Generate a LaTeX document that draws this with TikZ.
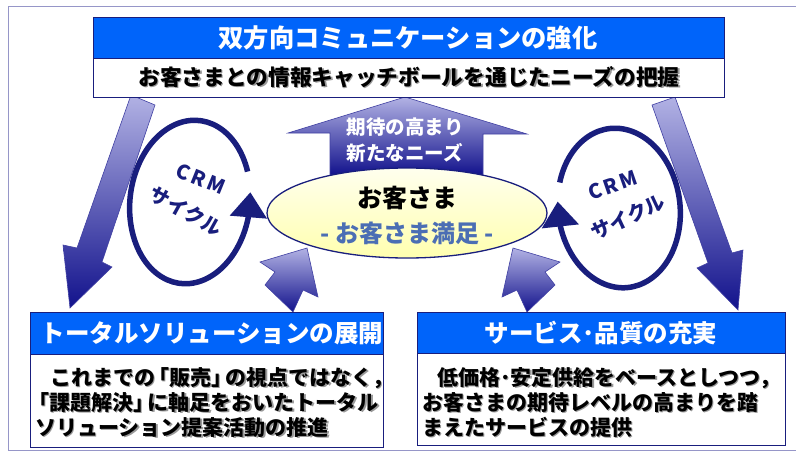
\documentclass[tikz,border=0pt]{standalone}
\usepackage{fontspec}
\setmainfont{Noto Sans CJK JP}
\usetikzlibrary{arrows.meta,bending,shapes.geometric}
\definecolor{hdrblue}{RGB}{0,100,250}
\definecolor{navy}{RGB}{25,30,125}
\definecolor{lav}{RGB}{178,178,228}
\definecolor{deep}{RGB}{18,18,140}
\definecolor{steel}{RGB}{75,110,180}
\definecolor{framec}{RGB}{150,150,200}
\definecolor{creamtop}{RGB}{255,255,238}
\definecolor{creambot}{RGB}{255,255,175}
\newcommand{\shtxt}[1]{\leavevmode\rlap{\kern1.3pt\raisebox{-1.3pt}{\textcolor{black!40}{#1}}}#1}
\newcommand{\lbr}{\makebox[0.68em][r]{「}}
\newcommand{\rbr}{\makebox[0.68em][l]{」}}
\begin{document}
\begin{tikzpicture}[x=1pt,y=-1pt,
  hdr/.style={fill=hdrblue,draw=navy,line width=1pt,anchor=north west,inner sep=0pt,outer sep=0pt},
  bodybox/.style={fill=white,draw=navy,line width=1pt,anchor=north west,inner sep=0pt,outer sep=0pt},
  hdrtext/.style={text=white,font=\bfseries\fontsize{24.5}{28}\selectfont,inner sep=0pt},
  bodytext/.style={font=\bfseries\fontsize{21}{25}\selectfont,inner sep=0pt,anchor=base west},
  bigarrow/.style={top color=lav,bottom color=deep,draw=deep!80,line width=0.6pt},
  cyclearc/.style={draw=navy,line width=5.5pt,-{Triangle[length=25pt,width=36pt]}},
  crm/.style={text=navy,font=\bfseries\fontsize{20}{22}\selectfont,inner sep=0pt},
  arrowtext/.style={text=white,font=\bfseries\fontsize{19.5}{22}\selectfont,inner sep=0pt}]

\useasboundingbox (0,0) rectangle (796,455);
\fill[white] (0,0) rectangle (796,455);
\draw[framec,line width=1pt] (8,6) rectangle (812,450);

% big side arrows
\path[bigarrow] (131,95) -- (155,105) -- (102,262) -- (112,267) -- (70,308) -- (63,245) -- (77,248) -- cycle;
\path[bigarrow] (675,97) -- (652,105) -- (708,263) -- (697,268) -- (738,310) -- (743,250) -- (732,253) -- cycle;

% small arrows into the customer
\path[bigarrow] (260,262) -- (307,248) -- (318,297) -- (303,290) -- (293,312) -- (265,285) -- (275,272) -- cycle;
\path[bigarrow] (560,262) -- (513,248) -- (502,297) -- (517,290) -- (527,312) -- (555,285) -- (545,272) -- cycle;

% up arrow
\path[bigarrow] (288,133) -- (405,97) -- (527,134) -- (483,134) -- (483,175) -- (330,175) -- (330,133) -- cycle;
\node[arrowtext] (exp1) at (405,127) {期待の高まり};
\node[arrowtext] (exp2) at (405,153) {新たなニーズ};

% top box
\node[hdr,minimum width=631pt,minimum height=41pt] (tophdr) at (93,17) {};
\node[bodybox,minimum width=631pt,minimum height=39pt] (topbody) at (93,58) {};
\node[hdrtext,font=\bfseries\fontsize{25.3}{28}\selectfont] (toptitle) at (408,38) {双方向コミュニケーションの強化};
\node[inner sep=0pt,font=\bfseries\fontsize{21.7}{25}\selectfont] (topsub) at (409,78) {\shtxt{お客さまとの情報キャッチボールを通じたニーズの把握}};

% bottom left box
\node[hdr,minimum width=353pt,minimum height=42pt] (lhdr) at (30,312) {};
\node[bodybox,minimum width=353pt,minimum height=93pt] (lbody) at (30,354) {};
\node[hdrtext] (ltitle) at (212,333) {トータルソリューションの展開};
\node[bodytext] (l1) at (35,385) {\shtxt{\hspace{15pt}これまでの\lbr 販売\rbr の視点ではなく，}};
\node[bodytext] (l2) at (35,410) {\shtxt{\lbr 課題解決\rbr に軸足をおいたトータル}};
\node[bodytext] (l3) at (35,435) {\shtxt{ソリューション提案活動の推進}};

% bottom right box
\node[hdr,minimum width=368pt,minimum height=41pt] (rhdr) at (417,312) {};
\node[bodybox,minimum width=368pt,minimum height=92pt] (rbody) at (417,353) {};
\node[hdrtext] (rtitle) at (601,333) {サービス･品質の充実};
\node[bodytext] (r1) at (422,385) {\shtxt{\hspace{15pt}低価格･安定供給をベースとしつつ，}};
\node[bodytext] (r2) at (422,410) {\shtxt{お客さまの期待レベルの高まりを踏}};
\node[bodytext] (r3) at (422,435) {\shtxt{まえたサービスの提供}};

% customer ellipse
\node[ellipse,draw=navy,line width=1.3pt,minimum width=280pt,minimum height=90pt,top color=creamtop,bottom color=creambot] (cust) at (407,213) {};
\node[inner sep=0pt,font=\bfseries\fontsize{25}{28}\selectfont] (custname) at (407,198) {お客さま};
\node[inner sep=0pt,text=steel,font=\bfseries\fontsize{24}{28}\selectfont] (custsat) at (407,233) {- お客さま満足 -};

% CRM cycles
\begin{scope}[rotate around={-7:(190,202)}]
\coordinate (lc) at (190,202);
\draw[cyclearc] ([shift={(27:60pt and 82pt)}]lc) arc[start angle=27,end angle=372,x radius=60pt,y radius=82pt];
\end{scope}
\node[crm,rotate=-22] (lcrm) at (201,179) {C\hspace{3pt}R\hspace{3pt}M};
\node[crm,rotate=-29] (lcyc) at (186,211) {サイクル};

\begin{scope}[rotate around={7:(619,208)}]
\coordinate (rc) at (619,208);
\draw[cyclearc] ([shift={(156:61pt and 80pt)}]rc) arc[start angle=156,end angle=-190,x radius=61pt,y radius=80pt];
\end{scope}
\node[crm,rotate=19] (rcrm) at (613,185) {C\hspace{3pt}R\hspace{3pt}M};
\node[crm,rotate=25] (rcyc) at (628,217) {サイクル};

\end{tikzpicture}
\end{document}
